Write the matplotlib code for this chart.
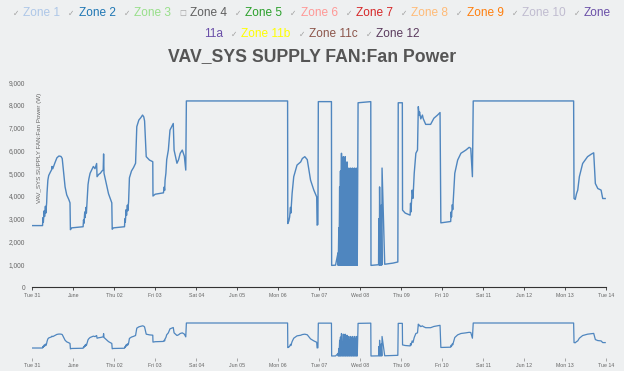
import matplotlib
matplotlib.use("Agg")
import matplotlib.pyplot as plt

plt.rcParams['font.family'] = ['Liberation Sans', 'DejaVu Sans']

# x axis: days since Tue 31 May 00:00
day_labels = ["Tue 31", "June", "Thu 02", "Fri 03", "Sat 04", "Jun 05", "Mon 06", "Tue 07",
              "Wed 08", "Thu 09", "Fri 10", "Sat 11", "Jun 12", "Mon 13", "Tue 14"]

days = [
    0.00, 0.25, 0.26, 0.27, 0.29, 0.30, 0.32, 0.33, 0.35, 0.36, 0.38, 0.40, 0.44, 0.47, 0.48,
    0.50, 0.55, 0.60, 0.65, 0.70, 0.73, 0.76, 0.80, 0.84, 0.89, 0.92, 0.93, 0.96, 1.24,
    1.25, 1.26, 1.28, 1.29, 1.31, 1.32, 1.34, 1.36, 1.38, 1.41, 1.45, 1.49, 1.53, 1.57, 1.58,
    1.62, 1.66, 1.70, 1.73, 1.74, 1.75, 1.80, 1.86, 1.92, 1.94, 1.95, 1.98, 2.25,
    2.26, 2.27, 2.29, 2.30, 2.32, 2.33, 2.35, 2.37, 2.42, 2.47, 2.52, 2.55, 2.60, 2.65, 2.69,
    2.72, 2.74, 2.78, 2.86, 2.94, 2.945,
    3.00, 3.20, 3.22, 3.23, 3.24, 3.26, 3.28, 3.32, 3.36, 3.42, 3.44, 3.46, 3.53, 3.57, 3.61,
    3.66, 3.71, 3.745, 3.76, 6.23,
    6.235, 6.26, 6.28, 6.30, 6.31, 6.34, 6.38, 6.46, 6.55, 6.59, 6.65, 6.71, 6.79, 6.87, 6.94,
    6.95, 6.97, 6.98, 7.30,
    7.305, 7.40, 7.46, 7.465, 7.48, 7.485,
    7.50, 7.505, 7.52, 7.525, 7.545, 7.55, 7.565, 7.57, 7.59, 7.595, 7.61, 7.615, 7.635, 7.64,
    7.655, 7.66, 7.68, 7.685, 7.70, 7.705, 7.725, 7.73, 7.745, 7.75, 7.77, 7.775, 7.79, 7.795,
    7.815, 7.82, 7.835, 7.84, 7.86, 7.865, 7.88, 7.885, 7.905, 7.91, 7.925, 7.93, 7.95, 8.26,
    8.265, 8.40, 8.45, 8.455, 8.47, 8.475, 8.49, 8.495, 8.51, 8.515, 8.53, 8.535, 8.60, 8.80,
    8.92, 8.93, 9.03,
    9.035, 9.10, 9.22, 9.23, 9.24, 9.27, 9.29, 9.32, 9.36, 9.40, 9.42, 9.44, 9.45, 9.48, 9.52,
    9.54, 9.60, 9.72, 9.80, 9.89, 9.95, 9.97, 10.21, 10.22, 10.23, 10.25, 10.26, 10.31, 10.38,
    10.46, 10.58, 10.66, 10.70, 10.74, 10.76, 13.21,
    13.22, 13.25, 13.28, 13.31, 13.35, 13.43, 13.55, 13.64, 13.70, 13.72, 13.74, 13.80, 13.88,
    13.92, 13.98,
]

fan_power = [
    2700, 2700, 3050, 2850, 3350, 3100, 3550, 3250, 3700, 4150, 4700, 4900, 5050, 5150, 5300,
    5200, 5450, 5680, 5760, 5740, 5650, 5100, 4400, 4050, 3850, 3700, 2520, 2600, 2650,
    2950, 2800, 3300, 3050, 3500, 3250, 3900, 4500, 4750, 5000, 5150, 5300, 5200, 5430, 4850,
    4950, 5000, 5100, 5150, 5850, 5000, 4600, 4100, 3800, 3700, 2540, 2600, 2650,
    3000, 2850, 3400, 3150, 3600, 3350, 3750, 4800, 5100, 5250, 5440, 7050, 7340, 7450, 7560,
    7480, 7300, 5730, 5580, 5510, 4000,
    4080, 4140, 4400, 4250, 4700, 5000, 5600, 6020, 6900, 7120, 7190, 6020, 5440, 5600, 5880,
    6020, 5750, 5140, 8180, 8180,
    2790, 2900, 3080, 3500, 3250, 4110, 4850, 5360, 5500, 5650, 5730, 5600, 4700, 4260, 3960,
    2720, 2750, 8150, 8150,
    950, 960, 1500, 950, 2600, 950,
    4400, 950, 5100, 950, 5880, 950, 4000, 950, 5730, 950, 5500, 950, 5730, 950,
    4800, 950, 5500, 950, 5000, 950, 5230, 950, 4500, 950, 5230, 950, 4900, 950,
    5230, 950, 4700, 950, 5230, 950, 4600, 950, 5230, 950, 5100, 950, 8100, 8150,
    950, 970, 980, 3000, 960, 4400, 970, 2500, 960, 3600, 970, 5230, 1000, 1050,
    1100, 8100, 8100,
    3380, 3250, 3160, 3680, 3300, 4260, 3900, 5000, 5880, 6020, 7930, 7560, 7700, 7390, 7560,
    7400, 7150, 7150, 7420, 7560, 7670, 2820, 2880, 3300, 3080, 3620, 3400, 5000, 5580,
    5880, 6020, 6140, 6100, 4850, 8180, 8180,
    3890, 3850, 4100, 4260, 4850, 5430, 5730, 5840, 5900, 5200, 4550, 4330, 4260,
    3890, 3890,
]

zone_names = ["Zone 1", "Zone 2", "Zone 3", "Zone 4", "Zone 5", "Zone 6", "Zone 7", "Zone 8",
              "Zone 9", "Zone 10", "Zone 11a", "Zone 11b", "Zone 11c", "Zone 12"]
zone_colors = ["#aec7e8", "#1f77b4", "#98df8a", "#606060", "#2ca02c", "#ff9896", "#d62728",
               "#ffbb78", "#ff7f0e", "#c0bcd0", "#6a4fa8", "#ffff00", "#8c564b", "#5b3b5e"]
zone_checked = [True, True, True, False, True, True, True, True, True, True, True, True, True, True]

BG = "#eef0f1"
LINE = "#4f86bf"
W, H = 624, 371

fig = plt.figure(figsize=(6.24, 3.71), dpi=100, facecolor=BG)

# main chart
ax = fig.add_axes([32.3 / W, 84 / H, 573.7 / W, 204.7 / H])
ax.set_facecolor(BG)
ax.plot(days, fan_power, color=LINE, lw=1.0)
ax.set_xlim(0, 14)
ax.set_ylim(0, 9000)
for s in ["top", "right", "left"]:
    ax.spines[s].set_visible(False)
ax.spines["bottom"].set_color("#333333")
ax.spines["bottom"].set_linewidth(0.8)
ax.set_xticks(range(len(day_labels)))
ax.set_xticklabels(day_labels)
ax.set_yticks(range(0, 9001, 1000))
ax.set_yticklabels([f"{v:,}" for v in range(0, 9001, 1000)])
ax.tick_params(axis="x", length=2.5, width=0.6, color="#333333", labelsize=3.8,
               labelcolor="#666666", pad=1.5)
ax.tick_params(axis="y", length=0, labelsize=4.8, labelcolor="#666666", pad=5)
ax.text(0.0117, 0.68, "VAV_SYS SUPPLY FAN:Fan Power (W)", transform=ax.transAxes,
        rotation=90, ha="center", va="center", fontsize=4.5, color="#666666")

# navigator
nav = fig.add_axes([32.3 / W, 13 / H, 573.7 / W, 38 / H])
nav.set_facecolor(BG)
nav.plot(days, fan_power, color=LINE, lw=0.9)
nav.set_xlim(0, 14)
nav.set_ylim(512, 8837)
for s in nav.spines.values():
    s.set_visible(False)
nav.set_yticks([])
nav.set_xticks(range(len(day_labels)))
nav.set_xticklabels(day_labels)
nav.tick_params(axis="x", length=2.2, width=0.5, color="#888888", labelsize=3.8,
                labelcolor="#666666", pad=1.2)

# title
fig.text(0.5, 1 - 57 / H, "VAV_SYS SUPPLY FAN:Fan Power", ha="center", va="center",
         fontsize=12.7, fontweight="bold", color="#555555")

# legend, laid out like an html flow legend, rows centred
renderer = fig.canvas.get_renderer()
row1 = [(zone_checked[i], zone_names[i], zone_colors[i]) for i in range(10)]
row1.append((zone_checked[10], "Zone", zone_colors[10]))
row2 = [(None, "11a", zone_colors[10])]
row2 += [(zone_checked[i], zone_names[i], zone_colors[i]) for i in range(11, 14)]


def place_row(items, y_px):
    parts = []
    for checked, label, color in items:
        if checked is not None:
            m = fig.text(0, 0, "\u2713" if checked else "\u2610", fontsize=5.5, color="#a0a0a0",
                         va="center", family="DejaVu Sans")
            parts.append((m, 4))
        t = fig.text(0, 0, label, fontsize=8.6, color=color, va="center")
        parts.append((t, 8))
    widths = [p.get_window_extent(renderer).width for p, _ in parts]
    total = sum(widths) + sum(g for _, g in parts[:-1])
    x = W / 2 - total / 2
    for (p, gap), w in zip(parts, widths):
        p.set_position((x / W, 1 - y_px / H))
        x += w + gap


place_row(row1, 13)
place_row(row2, 34)

fig.savefig("out.png", dpi=100, facecolor=BG)
